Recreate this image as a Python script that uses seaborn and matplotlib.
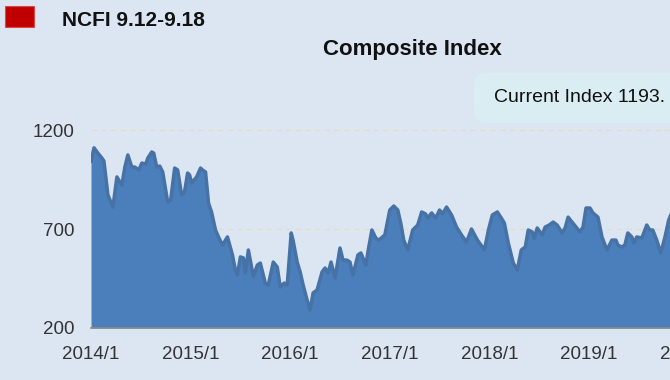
import matplotlib
matplotlib.use("Agg")
import matplotlib.pyplot as plt
import seaborn as sns
import pandas as pd
from matplotlib.patches import FancyBboxPatch, Rectangle

# Data (decimal year, index value)
years = [
    2014.00, 2014.03, 2014.07, 2014.11, 2014.13, 2014.17, 2014.22, 2014.26, 2014.31, 2014.34,
    2014.37, 2014.41, 2014.44, 2014.48, 2014.51, 2014.55, 2014.57, 2014.61, 2014.63, 2014.66,
    2014.69, 2014.72, 2014.77, 2014.80, 2014.84, 2014.87, 2014.91, 2014.94, 2014.97, 2014.99,
    2015.01, 2015.06, 2015.10, 2015.12, 2015.15, 2015.18, 2015.21, 2015.25, 2015.28, 2015.32,
    2015.37, 2015.42, 2015.45, 2015.47, 2015.50, 2015.53, 2015.55, 2015.58, 2015.63, 2015.67,
    2015.70, 2015.75, 2015.78, 2015.83, 2015.87, 2015.90, 2015.94, 2015.97, 2016.01, 2016.03,
    2016.07, 2016.10, 2016.13, 2016.17, 2016.20, 2016.23, 2016.27, 2016.32, 2016.35, 2016.38,
    2016.41, 2016.45, 2016.50, 2016.53, 2016.57, 2016.60, 2016.63, 2016.68, 2016.71, 2016.76,
    2016.78, 2016.82, 2016.86, 2016.89, 2016.95, 2016.98, 2017.00, 2017.04, 2017.08, 2017.11,
    2017.14, 2017.18, 2017.23, 2017.28, 2017.32, 2017.36, 2017.38, 2017.42, 2017.46, 2017.50,
    2017.53, 2017.57, 2017.62, 2017.67, 2017.72, 2017.77, 2017.82, 2017.88, 2017.93, 2017.95,
    2017.99, 2018.03, 2018.08, 2018.12, 2018.15, 2018.19, 2018.24, 2018.28, 2018.32, 2018.36,
    2018.39, 2018.43, 2018.45, 2018.48, 2018.53, 2018.56, 2018.60, 2018.64, 2018.68, 2018.73,
    2018.76, 2018.79, 2018.83, 2018.87, 2018.91, 2018.94, 2018.97, 2019.01, 2019.04, 2019.09,
    2019.13, 2019.18, 2019.23, 2019.27, 2019.29, 2019.33, 2019.36, 2019.39, 2019.43, 2019.45,
    2019.48, 2019.53, 2019.58, 2019.61, 2019.64, 2019.68, 2019.72, 2019.76, 2019.80, 2019.86,
    2019.92,
]
index_values = [
    1040, 1110, 1083, 1058, 1043, 872, 811, 963, 922, 1013,
    1074, 1013, 1013, 998, 1033, 1028, 1058, 1089, 1083, 1013,
    1018, 988, 836, 846, 1008, 998, 872, 890, 983, 973,
    932, 963, 1008, 998, 988, 831, 786, 695, 660, 619,
    660, 569, 493, 468, 559, 554, 478, 594, 460, 518,
    528, 427, 417, 533, 508, 407, 427, 417, 680, 640,
    533, 483, 417, 341, 291, 377, 392, 483, 503, 478,
    533, 452, 604, 543, 543, 533, 468, 569, 579, 518,
    584, 695, 654, 644, 670, 745, 796, 816, 796, 730,
    644, 594, 695, 720, 786, 776, 755, 781, 755, 796,
    776, 811, 771, 710, 670, 634, 700, 644, 609, 594,
    695, 771, 786, 755, 730, 629, 528, 493, 594, 609,
    695, 685, 654, 705, 670, 710, 720, 735, 720, 680,
    705, 760, 735, 710, 685, 710, 806, 806, 781, 760,
    660, 594, 644, 644, 619, 609, 619, 680, 660, 629,
    660, 654, 720, 695, 695, 644, 579, 654, 745, 820,
    790,
]
tick_years = [2014, 2015, 2016, 2017, 2018, 2019, 2020]
tick_labels = ["2014/1", "2015/1", "2016/1", "2017/1", "2018/1", "2019/1", "2020/1"]
y_ticks = [200, 700, 1200]

df = pd.DataFrame({"year": years, "index": index_values})

sns.set_style("white")
plt.rcParams["font.family"] = ["Liberation Sans", "DejaVu Sans"]

bg = "#dce6f2"
fill_color = "#4b7fbb"
line_color = "#4672a6"

fig = plt.figure(figsize=(6.7, 3.8), dpi=100, facecolor=bg)
# axes run past the right edge of the figure, like the cropped original
ax = fig.add_axes([91 / 670, 52 / 380, 597.6 / 670, 207.9 / 380])
ax.set_facecolor(bg)

ax.fill_between(df["year"], df["index"], 200, color=fill_color, linewidth=0, zorder=2)
sns.lineplot(data=df, x="year", y="index", ax=ax, color=line_color, linewidth=2.5, zorder=3)

ax.set_xlim(2014.0, 2020.0)
ax.set_ylim(200, 1250)
ax.set_xticks(tick_years)
ax.set_xticklabels(tick_labels)
ax.set_yticks(y_ticks)
ax.set_yticklabels([str(v) for v in y_ticks])
ax.set_xlabel("")
ax.set_ylabel("")

for v in y_ticks[1:]:
    ax.axhline(v, color="#e2dccd", linestyle=(0, (4, 3)), linewidth=1, zorder=1)

for side in ["top", "right", "left"]:
    ax.spines[side].set_visible(False)
ax.spines["bottom"].set_color("#8a8a8a")
ax.spines["bottom"].set_linewidth(1.2)
ax.spines["bottom"].set_zorder(4)

ax.tick_params(axis="x", length=6, width=1, color="#8a8a8a", pad=7,
               labelsize=13.5, labelcolor="#333333")
ax.tick_params(axis="y", length=0, pad=12, labelsize=13.5, labelcolor="#333333")

# header
fig.add_artist(Rectangle((5 / 670, 1 - 27 / 380), 29 / 670, 21 / 380,
                         transform=fig.transFigure, facecolor="#c00000",
                         edgecolor="#d84a4a", linewidth=0.8))
fig.text(62 / 670, 1 - 20 / 380, "NCFI 9.12-9.18", fontsize=15, fontweight="bold",
         color="#111111", va="center", ha="left")
fig.text(412 / 670, 1 - 50 / 380, "Composite Index", fontsize=16, fontweight="bold",
         color="#111111", va="center", ha="center")

# tooltip box, cut off at the right edge
fig.add_artist(FancyBboxPatch((474 / 670, 1 - 123 / 380), 260 / 670, 50 / 380,
                              boxstyle="round,pad=0,rounding_size=0.02",
                              transform=fig.transFigure, facecolor="#daedf3",
                              edgecolor="none", mutation_aspect=670 / 380))
fig.text(494 / 670, 1 - 97 / 380, "Current Index 1193.", fontsize=14,
         color="#111111", va="center", ha="left")

fig.savefig("out.png", dpi=100, facecolor=bg)
